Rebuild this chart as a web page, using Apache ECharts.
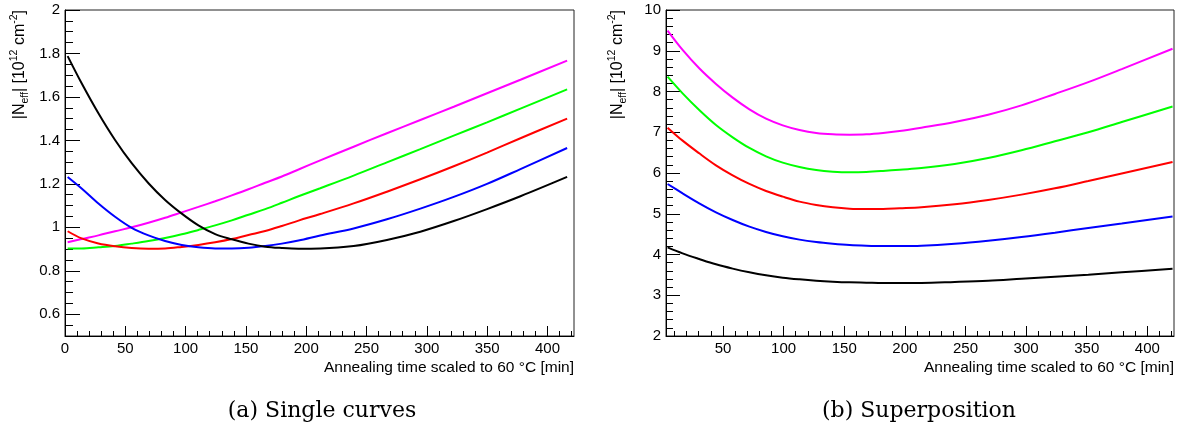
<!DOCTYPE html>
<html>
<head>
<meta charset="utf-8">
<script src="https://cdn.jsdelivr.net/npm/echarts@6/dist/echarts.min.js"></script>
<style>
html,body{margin:0;padding:0;background:#fff;}
#chart{width:1182px;height:429px;}
</style>
</head>
<body>
<div id="chart"></div>
<script>
// ---- Data ----
// (a) Single curves
const leftTime = [2.2, 13.8, 27.7, 41.5, 55.3, 69.2, 83.0, 96.8, 110.6, 124.5, 138.3, 152.1, 166.0, 179.8, 193.6, 211.6, 239.3, 266.9, 294.6, 322.3, 349.9, 377.6, 416.3];
const leftMagenta = [0.931, 0.946, 0.963, 0.982, 1.000, 1.021, 1.044, 1.069, 1.094, 1.120, 1.147, 1.175, 1.205, 1.234, 1.266, 1.308, 1.371, 1.433, 1.494, 1.555, 1.617, 1.679, 1.767];
const leftGreen = [0.903, 0.903, 0.908, 0.914, 0.925, 0.937, 0.951, 0.968, 0.988, 1.009, 1.032, 1.058, 1.084, 1.113, 1.143, 1.180, 1.238, 1.299, 1.360, 1.422, 1.483, 1.546, 1.635];
const leftRed = [0.982, 0.949, 0.926, 0.913, 0.905, 0.902, 0.903, 0.910, 0.919, 0.931, 0.946, 0.965, 0.983, 1.006, 1.031, 1.061, 1.110, 1.164, 1.221, 1.281, 1.344, 1.410, 1.500];
const leftBlue = [1.232, 1.179, 1.110, 1.049, 0.998, 0.963, 0.937, 0.919, 0.908, 0.903, 0.903, 0.906, 0.914, 0.925, 0.939, 0.962, 0.995, 1.037, 1.086, 1.140, 1.200, 1.268, 1.365];
const leftBlack = [1.788, 1.663, 1.525, 1.402, 1.295, 1.203, 1.126, 1.063, 1.009, 0.969, 0.945, 0.925, 0.911, 0.905, 0.902, 0.903, 0.914, 0.942, 0.980, 1.029, 1.084, 1.143, 1.232];

// (b) Superposition
const rightTime = [4.3, 16.7, 30.4, 44.2, 58.0, 71.8, 85.5, 99.3, 113.1, 126.9, 140.6, 154.4, 168.2, 182.0, 195.7, 213.6, 241.1, 268.7, 296.2, 323.8, 351.3, 378.9, 420.8];
const rightMagenta = [9.493, 9.019, 8.569, 8.185, 7.849, 7.563, 7.334, 7.170, 7.056, 6.982, 6.949, 6.941, 6.949, 6.982, 7.031, 7.113, 7.250, 7.430, 7.660, 7.940, 8.230, 8.550, 9.050];
const rightGreen = [8.364, 7.955, 7.546, 7.178, 6.876, 6.614, 6.409, 6.254, 6.148, 6.074, 6.033, 6.017, 6.025, 6.050, 6.082, 6.120, 6.221, 6.368, 6.557, 6.777, 7.000, 7.250, 7.630];
const rightRed = [7.113, 6.794, 6.483, 6.189, 5.943, 5.731, 5.559, 5.420, 5.297, 5.215, 5.158, 5.125, 5.117, 5.117, 5.133, 5.158, 5.231, 5.338, 5.469, 5.624, 5.804, 5.990, 6.270];
const rightBlue = [5.730, 5.501, 5.256, 5.035, 4.847, 4.683, 4.553, 4.446, 4.365, 4.307, 4.266, 4.234, 4.217, 4.209, 4.209, 4.217, 4.266, 4.340, 4.430, 4.536, 4.651, 4.760, 4.930];
const rightBlack = [4.176, 4.029, 3.890, 3.759, 3.653, 3.563, 3.489, 3.432, 3.391, 3.358, 3.334, 3.317, 3.309, 3.301, 3.301, 3.301, 3.326, 3.358, 3.407, 3.456, 3.506, 3.563, 3.653];

// Tick values
const leftXMajor = [0, 50, 100, 150, 200, 250, 300, 350, 400];
const rightXMajor = [50, 100, 150, 200, 250, 300, 350, 400];
const xMinor = [10, 20, 30, 40, 60, 70, 80, 90, 110, 120, 130, 140, 160, 170, 180, 190, 210, 220, 230, 240, 260, 270, 280, 290, 310, 320, 330, 340, 360, 370, 380, 390, 410, 420];
const leftYMajor = [0.6, 0.8, 1, 1.2, 1.4, 1.6, 1.8, 2];
const leftYMinor = [0.55, 0.65, 0.7, 0.75, 0.85, 0.9, 0.95, 1.05, 1.1, 1.15, 1.25, 1.3, 1.35, 1.45, 1.5, 1.55, 1.65, 1.7, 1.75, 1.85, 1.9, 1.95];
const rightYMajor = [2, 3, 4, 5, 6, 7, 8, 9, 10];
const rightYMinor = [2.2, 2.4, 2.6, 2.8, 3.2, 3.4, 3.6, 3.8, 4.2, 4.4, 4.6, 4.8, 5.2, 5.4, 5.6, 5.8, 6.2, 6.4, 6.6, 6.8, 7.2, 7.4, 7.6, 7.8, 8.2, 8.4, 8.6, 8.8, 9.2, 9.4, 9.6, 9.8];

const xTitle = 'Annealing time scaled to 60 °C [min]';
const captionA = '(a) Single curves';
const captionB = '(b) Superposition';

// ---- Chart ----
const FONT = 'Liberation Sans, Arial, sans-serif';
const chart = echarts.init(document.getElementById('chart'), null, {renderer: 'canvas', devicePixelRatio: 1});

function zip(t, v) { return t.map((x, i) => [x, v[i]]); }

function majorAxis(grid, min, max, ticks, len, isY, labelMargin) {
  return {
    type: 'value', gridIndex: grid, min: min, max: max,
    position: isY ? 'left' : 'bottom',
    axisLine: {show: true, onZero: false, lineStyle: {color: '#000', width: 1}},
    axisTick: {show: true, inside: true, length: len, customValues: ticks, lineStyle: {color: '#000', width: 1}},
    axisLabel: {show: true, customValues: ticks, color: '#000', fontSize: 15, fontFamily: FONT, margin: labelMargin},
    splitLine: {show: false}, minorTick: {show: false}
  };
}
function minorAxis(grid, min, max, ticks, len, isY) {
  return {
    type: 'value', gridIndex: grid, min: min, max: max,
    position: isY ? 'left' : 'bottom',
    axisLine: {show: false, onZero: false},
    axisTick: {show: true, inside: true, length: len, customValues: ticks, lineStyle: {color: '#000', width: 1}},
    axisLabel: {show: false},
    splitLine: {show: false}
  };
}

function lineSeries(xi, yi, t, v, color) {
  return {
    type: 'line', xAxisIndex: xi, yAxisIndex: yi, data: zip(t, v),
    smooth: 0.35, showSymbol: false, symbol: 'none', clip: true,
    lineStyle: {color: color, width: 2}, itemStyle: {color: color}, animation: false
  };
}

const richTitle = {
  m: {fontSize: 16, fontFamily: FONT, fill: '#000', color: '#000', lineHeight: 22, verticalAlign: 'middle'},
  s: {fontSize: 10.5, fontFamily: FONT, fill: '#000', color: '#000', lineHeight: 22, verticalAlign: 'bottom'},
  p: {fontSize: 10.5, fontFamily: FONT, fill: '#000', color: '#000', lineHeight: 22, verticalAlign: 'top'}
};
const yTitleText = '{m||N}{s|eff}{m|| [10}{p|12}{m| cm}{p|-2}{m|]}';

function yTitle(x) {
  return {type: 'text', x: x, y: 10, rotation: Math.PI / 2,
    style: {text: yTitleText, rich: richTitle, align: 'right', verticalAlign: 'middle', fill: '#000'}};
}
function plainText(x, y, text, size, family, align) {
  return {type: 'text', x: x, y: y,
    style: {text: text, fontSize: size, fontFamily: family, fill: '#000', align: align, verticalAlign: 'middle'}};
}

const option = {
  backgroundColor: '#fff',
  animation: false,
  grid: [
    {left: 65, top: 10, width: 509, height: 326, show: true, borderColor: '#222', borderWidth: 1, backgroundColor: '#fff'},
    {left: 666, top: 10, width: 508, height: 326, show: true, borderColor: '#222', borderWidth: 1, backgroundColor: '#fff'}
  ],
  xAxis: [
    majorAxis(0, 0, 422, leftXMajor, 10, false, 5),
    minorAxis(0, 0, 422, xMinor, 5, false),
    majorAxis(1, 3, 422, rightXMajor, 10, false, 5),
    minorAxis(1, 3, 422, xMinor, 5, false)
  ],
  yAxis: [
    majorAxis(0, 0.5, 2, leftYMajor, 15, true, 5),
    minorAxis(0, 0.5, 2, leftYMinor, 8, true),
    majorAxis(1, 2, 10, rightYMajor, 14, true, 5),
    minorAxis(1, 2, 10, rightYMinor, 7, true)
  ],
  series: [
    lineSeries(0, 0, leftTime, leftMagenta, '#ff00ff'),
    lineSeries(0, 0, leftTime, leftGreen, '#00ff00'),
    lineSeries(0, 0, leftTime, leftRed, '#ff0000'),
    lineSeries(0, 0, leftTime, leftBlue, '#0000ff'),
    lineSeries(0, 0, leftTime, leftBlack, '#000000'),
    lineSeries(2, 2, rightTime, rightMagenta, '#ff00ff'),
    lineSeries(2, 2, rightTime, rightGreen, '#00ff00'),
    lineSeries(2, 2, rightTime, rightRed, '#ff0000'),
    lineSeries(2, 2, rightTime, rightBlue, '#0000ff'),
    lineSeries(2, 2, rightTime, rightBlack, '#000000')
  ],
  graphic: [
    yTitle(20),
    yTitle(618),
    plainText(574, 368, xTitle, 15.5, FONT, 'right'),
    plainText(1174, 368, xTitle, 15.5, FONT, 'right'),
    plainText(322, 411, captionA, 22, 'DejaVu Serif, serif', 'center'),
    plainText(919, 411, captionB, 22, 'DejaVu Serif, serif', 'center')
  ]
};
chart.setOption(option);
</script>
</body>
</html>
